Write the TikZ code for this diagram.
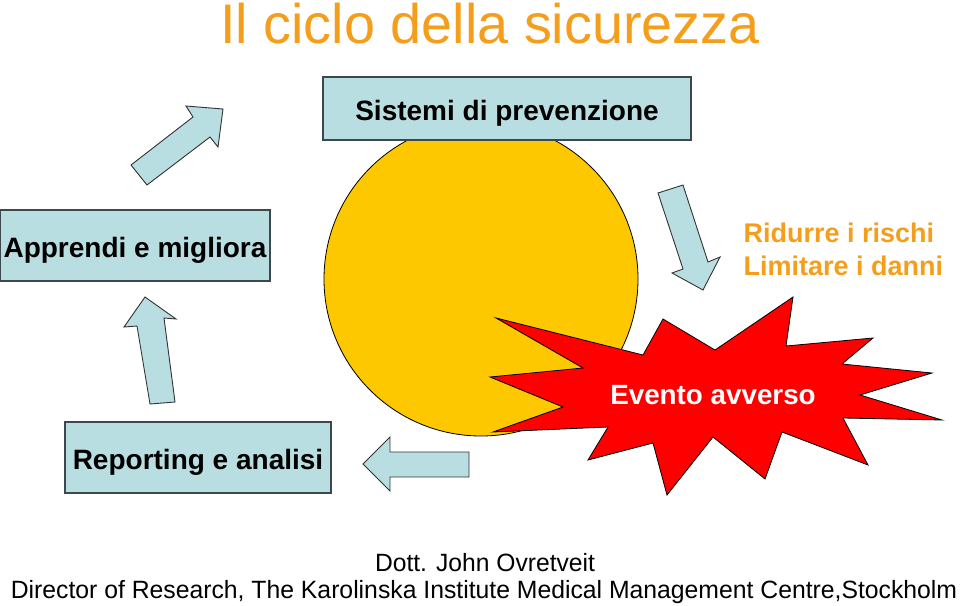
\documentclass[tikz,border=0pt]{standalone}
\usepackage{fontspec}
\setmainfont{Liberation Sans}
\usepackage{graphicx}

\definecolor{titleorange}{RGB}{245,158,28}
\definecolor{boxcyan}{RGB}{185,222,226}
\definecolor{boxedge}{RGB}{60,72,78}
\definecolor{sunyellow}{RGB}{253,200,0}
\definecolor{blastred}{RGB}{255,0,0}

\tikzset{
  stepbox/.style={draw=boxedge, fill=boxcyan, line width=1.1pt, inner sep=0pt,
    text height=24pt, text depth=0pt,
    font=\fontsize{28}{32}\selectfont\bfseries},
  blockarrow/.style={draw=black!80, fill=boxcyan, line width=0.9pt, line join=miter},
  outcome/.style={anchor=base west, text=titleorange, font=\fontsize{27}{31}\selectfont\bfseries},
}

\begin{document}
\begin{tikzpicture}[x=1pt, y=-1pt]
	\useasboundingbox (0,0) rectangle (960,605);
	
	% Title
	\node[anchor=base, text=titleorange, font=\fontsize{55.8}{62}\selectfont] (title) at (490,43) {Il ciclo della sicurezza};
	
	% Draw the yellow disc
	\draw[fill=sunyellow, line width=0.8pt] (481,279) circle (157);
	
	% Draw the boxes of the cycle
	\node[stepbox, minimum width=368pt, minimum height=63pt] (prevenzione) at (507,108.5) {Sistemi di prevenzione};
	\node[stepbox, minimum width=270pt, minimum height=71pt] (apprendi) at (135,245.5) {Apprendi e migliora};
	\node[stepbox, minimum width=266pt, minimum height=71pt] (reporting) at (198,457.5) {Reporting e analisi};
	
	% Draw the block arrows
	\draw[blockarrow] (131,165) -- (193,117) -- (186,106) -- (223,109) -- (218,147) -- (210,137) -- (147,185) -- cycle;
	\draw[blockarrow] (658,193) -- (683,185) -- (708,262) -- (720,257) -- (703,290) -- (672,273) -- (683,269) -- cycle;
	\draw[blockarrow] (145,297) -- (176,319) -- (164,318) -- (175,402) -- (150,404) -- (137,326) -- (124,327) -- cycle;
	\draw[blockarrow] (363,464) -- (390,437) -- (390,452) -- (469,452) -- (469,477) -- (390,477) -- (390,491) -- cycle;
	
	% Label the outcomes
	\node[outcome] (ridurre) at (740,242) {Ridurre i rischi};
	\node[outcome] (limitare) at (740,275) {Limitare i danni};
	
	% Draw the red explosion
	\draw[fill=blastred, line width=0.8pt, line join=miter]
		(496,318) -- (643,355) -- (663,319) -- (715,350) -- (793,297) -- (786,346)
		-- (873,338) -- (842,364) -- (932,373) -- (860,395) -- (942,420) -- (843,418)
		-- (868,465) -- (782,432) -- (765,479) -- (713,437) -- (667,495) -- (653,443)
		-- (588,460) -- (608,427) -- (493,432) -- (563,407) -- (490,377) -- (583,368) -- cycle;
	\node[anchor=base, text=white, font=\fontsize{27.8}{31}\selectfont\bfseries] (evento) at (713,404) {Evento avverso};
	
	% Credits
	\node[anchor=base, font=\fontsize{25}{28}\selectfont] (autore) at (485,571) {\scalebox{0.985}[1]{Dott. John Ovretveit}};
	\node[anchor=base, font=\fontsize{25}{28}\selectfont] (ente) at (484,598) {\scalebox{0.99}[1]{Director of Research, The Karolinska Institute Medical Management Centre,Stockholm}};
\end{tikzpicture}
\end{document}
